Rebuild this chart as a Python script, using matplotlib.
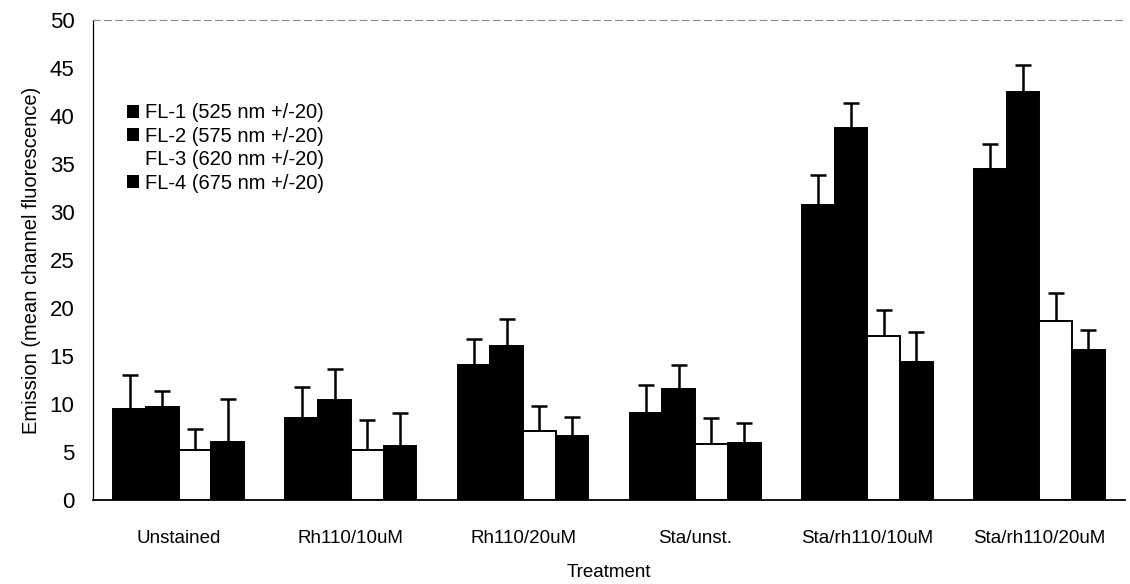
import matplotlib
matplotlib.use("Agg")
import matplotlib.pyplot as plt
import numpy as np

plt.rcParams['font.family'] = ['Liberation Sans', 'DejaVu Sans']

categories = ["Unstained", "Rh110/10uM", "Rh110/20uM", "Sta/unst.", "Sta/rh110/10uM", "Sta/rh110/20uM"]
series_names = ["FL-1 (525 nm +/-20)", "FL-2 (575 nm +/-20)", "FL-3 (620 nm +/-20)", "FL-4 (675 nm +/-20)"]
fl1 = [9.5, 8.5, 14.1, 9.0, 30.7, 34.5]
fl2 = [9.7, 10.4, 16.0, 11.5, 38.7, 42.5]
fl3 = [5.2, 5.2, 7.2, 5.8, 17.1, 18.6]
fl4 = [6.0, 5.6, 6.7, 5.9, 14.4, 15.6]
fl1_err = [3.5, 3.3, 2.7, 3.0, 3.1, 2.6]
fl2_err = [1.6, 3.2, 2.8, 2.5, 2.6, 2.8]
fl3_err = [2.2, 3.1, 2.6, 2.7, 2.7, 2.9]
fl4_err = [4.5, 3.5, 1.9, 2.1, 3.1, 2.1]

values = [fl1, fl2, fl3, fl4]
errs = [fl1_err, fl2_err, fl3_err, fl4_err]
faces = ["black", "black", "white", "black"]

fig = plt.figure(figsize=(11.3, 5.84), dpi=100)
ax = fig.add_axes([0.082, 0.144, 0.914, 0.822])

x = np.arange(len(categories))
w = 0.19
for i, (vals, er, fc) in enumerate(zip(values, errs, faces)):
    pos = x + (i - 1.5) * w
    ax.bar(pos, vals, width=w, color=fc, edgecolor="black", linewidth=1.4,
           label=series_names[i], zorder=2)
    ax.errorbar(pos, vals, yerr=[np.zeros(len(vals)), er], fmt="none",
                ecolor="black", elinewidth=1.8, capsize=5.5, capthick=1.8, zorder=1)

ax.set_xlim(-0.5, len(categories) - 0.5)
ax.set_ylim(0, 50)
ax.set_yticks(np.arange(0, 51, 5))
ax.tick_params(axis="y", length=0, labelsize=16, pad=13)
ax.tick_params(axis="x", length=0, labelsize=13.5, pad=22)
ax.set_xticks(x)
ax.set_xticklabels(categories)

ax.spines["right"].set_visible(False)
ax.spines["top"].set_linestyle((0, (6, 4)))
ax.spines["top"].set_color("#888888")
ax.spines["top"].set_linewidth(0.8)
ax.spines["left"].set_linewidth(0.9)
ax.spines["bottom"].set_linewidth(1.3)

ax.set_ylabel("Emission (mean channel fluorescence)", fontsize=14.5, labelpad=6)
ax.set_xlabel("Treatment", fontsize=13.5, labelpad=12)

leg = ax.legend(loc="upper left", bbox_to_anchor=(0.016, 0.864), frameon=False,
                fontsize=14.5, handlelength=0.6, handleheight=0.6, handletextpad=0.3,
                labelspacing=0.22)
for h in leg.legend_handles:
    h.set_edgecolor("none")
leg.legend_handles[2].set_facecolor("white")

fig.savefig("out.png", dpi=100)
